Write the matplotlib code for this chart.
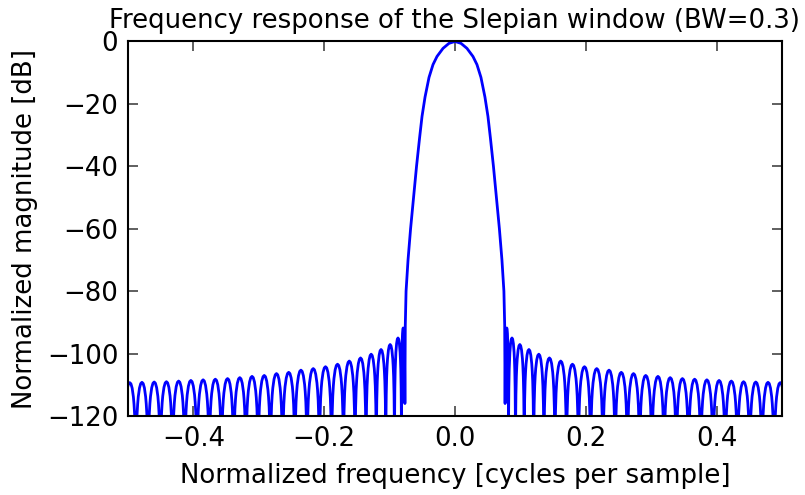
import matplotlib

matplotlib.use("Agg")
import matplotlib.pyplot as plt
import numpy as np

# main lobe, positive-frequency half (symmetric response)
main_freq = [0.0, 0.0092, 0.0183, 0.0275, 0.0336, 0.0397, 0.0458, 0.0504, 0.0542,
             0.0588, 0.0634, 0.0679, 0.0718, 0.0748, 0.0760, 0.0766]
main_db = [0.0, -0.6, -2.2, -4.8, -7.4, -11.5, -17.8, -24.0, -31.0,
           -40.0, -50.0, -60.0, -70.0, -80.0, -91.0, -116.0]

# sidelobe nulls (positive side); the last lobe runs past the plot edge
null_freq = [0.0766, 0.0818, 0.0925, 0.1058, 0.1203, 0.1360, 0.1528, 0.1705, 0.1887,
             0.2073, 0.2262, 0.2449, 0.2636, 0.2823, 0.3010, 0.3197, 0.3384, 0.3571,
             0.3758, 0.3945, 0.4132, 0.4319, 0.4506, 0.4693, 0.4880, 0.5067]
# sidelobe peak levels [dB], one per lobe between consecutive nulls
peak_db = [-91.8, -95.0, -97.1, -98.7, -100.2, -101.4, -102.4, -103.4, -104.2,
           -104.8, -105.3, -106.0, -106.4, -107.0, -107.3, -107.7, -108.0, -108.2,
           -108.4, -108.6, -108.8, -109.0, -109.1, -109.2, -109.3]

# shape of one sidelobe: position across the lobe and drop below its peak [dB]
lobe_pos = [0.0, 0.02, 0.05, 0.1, 0.15, 0.2, 0.3, 0.4, 0.5, 0.6, 0.7, 0.8, 0.85, 0.9, 0.95, 0.98, 1.0]
lobe_drop = [-60.0, -24.0, -16.1, -10.2, -6.9, -4.6, -1.8, -0.4, 0.0, -0.4, -1.8, -4.6, -6.9, -10.2, -16.1, -24.0, -60.0]


def half_response():
    f = list(main_freq)
    r = list(main_db)
    pos = np.asarray(lobe_pos)
    drop = np.asarray(lobe_drop)
    for k, lvl in enumerate(peak_db):
        a, b = null_freq[k], null_freq[k + 1]
        xs = a + pos * (b - a)
        ys = lvl + drop
        # first point of each lobe is the previous null (already in the list)
        f.extend(xs[1:])
        r.extend(ys[1:])
    return np.array(f), np.array(r)


fpos, rpos = half_response()
freq = np.concatenate([-fpos[::-1], fpos[1:]])
response = np.concatenate([rpos[::-1], rpos[1:]])

plt.rcParams["font.family"] = ["DejaVu Sans"]
fs = 18.7

fig = plt.figure(figsize=(8.05, 4.95), dpi=100)
ax = fig.add_axes([0.159, 0.1596, 0.8124, 0.7566])
ax.plot(freq, response, color="#0000ff", lw=2)
ax.axis([-0.5, 0.5, -120, 0])
ax.set_xticks([-0.4, -0.2, 0.0, 0.2, 0.4])
ax.set_yticks([0, -20, -40, -60, -80, -100, -120])
ax.tick_params(direction="in", length=7, width=1.2, color="#444444",
               top=True, right=True, labelsize=fs, pad=7)
for s in ax.spines.values():
    s.set_linewidth(1.5)
ax.set_title("Frequency response of the Slepian window (BW=0.3)", fontsize=fs, pad=10)
ax.set_ylabel("Normalized magnitude [dB]", fontsize=fs, labelpad=6)
ax.set_xlabel("Normalized frequency [cycles per sample]", fontsize=fs, labelpad=8)
fig.savefig("out.png", dpi=100)
